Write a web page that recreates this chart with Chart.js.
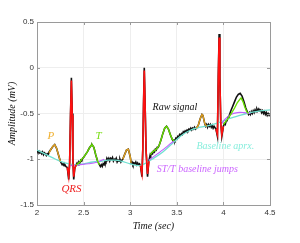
<!DOCTYPE html>
<html>
<head>
<meta charset="utf-8">
<script src="https://cdn.jsdelivr.net/npm/chart.js@4.4.1/dist/chart.umd.min.js"></script>
<style>
  html, body { margin: 0; padding: 0; background: #fff; }
  #wrap { width: 300px; height: 243px; position: relative; }
</style>
</head>
<body>
<div id="wrap"><canvas id="ecg"></canvas></div>
<script>
// tick labels
const xTicks = [2, 2.5, 3, 3.5, 4, 4.5];
const yTicks = [-1.5, -1, -0.5, 0, 0.5];

// raw ECG signal (time in sec, amplitude in mV)
const rawT = [2.00,2.01,2.02,2.03,2.04,2.05,2.06,2.07,2.08,2.09,2.10,2.11,2.12,2.13,2.15,2.17,2.19,2.21,2.23,2.25,2.26,2.27,2.28,2.29,2.30,2.31,2.325,
  2.34,2.35,2.36,2.369,2.378,2.385,2.394,2.405,
  2.42,2.43,2.44,2.45,2.46,2.47,2.48,2.49,2.50,2.52,2.54,2.56,2.58,2.59,2.61,2.63,2.65,2.67,2.68,2.69,2.70,2.71,2.72,2.73,2.74,2.75,2.76,2.77,2.78,2.79,2.80,2.81,2.82,2.83,2.84,2.85,2.86,2.87,2.88,2.89,2.90,2.91,2.92,2.94,2.96,2.98,3.00,3.01,3.02,3.03,3.04,3.05,3.06,3.07,3.08,3.09,3.10,3.11,
  3.126,3.135,3.143,3.151,3.16,3.17,3.186,
  3.20,3.215,3.22,3.23,3.24,3.25,3.26,3.27,3.28,3.29,3.30,3.31,3.33,3.35,3.37,3.39,3.41,3.43,3.45,3.46,3.47,3.48,3.49,3.50,3.51,3.52,3.53,3.54,3.55,3.56,3.57,3.58,3.59,3.60,3.61,3.62,3.63,3.64,3.65,3.66,3.67,3.68,3.69,3.70,3.71,3.73,3.75,3.77,3.78,3.80,3.81,3.82,3.83,3.84,3.85,3.86,3.87,3.88,3.89,3.90,3.92,
  3.936,3.945,3.954,3.962,3.972,3.983,
  4.00,4.01,4.02,4.03,4.04,4.05,4.06,4.08,4.10,4.12,4.14,4.16,4.18,4.20,4.22,4.24,4.26,4.27,4.28,4.29,4.30,4.31,4.32,4.33,4.34,4.35,4.36,4.37,4.38,4.39,4.40,4.41,4.42,4.43,4.44,4.45,4.46,4.47,4.48,4.49,4.50];
const rawV = [-0.90,-0.92,-0.91,-0.93,-0.92,-0.94,-0.92,-0.95,-0.93,-0.94,-0.96,-0.94,-0.95,-0.92,-0.89,-0.86,-0.84,-0.88,-0.95,-1.02,-1.04,-1.06,-1.05,-1.07,-1.06,-1.08,-1.09,
  -1.22,-1.05,-0.50,-0.11,-0.50,-1.00,-1.22,-1.10,
  -1.06,-1.04,-1.06,-1.03,-1.04,-1.01,-1.02,-0.99,-0.98,-0.95,-0.92,-0.88,-0.85,-0.84,-0.87,-0.95,-1.02,-1.06,-1.08,-1.06,-1.08,-1.05,-1.06,-1.02,-1.03,-0.99,-1.01,-0.99,-1.02,-0.99,-1.00,-0.98,-1.02,-1.00,-1.01,-0.99,-1.03,-1.01,-1.02,-1.00,-1.03,-1.01,-1.00,-0.95,-0.90,-0.89,-0.97,-1.04,-1.03,-1.06,-1.04,-1.05,-1.03,-1.06,-1.04,-1.06,-1.05,-1.07,
  -1.19,-0.90,-0.40,0.00,-0.40,-0.90,-1.19,
  -1.02,-0.95,-0.96,-0.93,-0.94,-0.91,-0.92,-0.89,-0.90,-0.87,-0.87,-0.85,-0.79,-0.72,-0.66,-0.64,-0.67,-0.73,-0.78,-0.80,-0.79,-0.80,-0.77,-0.78,-0.75,-0.76,-0.73,-0.74,-0.72,-0.73,-0.70,-0.71,-0.69,-0.70,-0.68,-0.69,-0.67,-0.68,-0.66,-0.68,-0.66,-0.67,-0.65,-0.67,-0.66,-0.63,-0.56,-0.51,-0.52,-0.61,-0.64,-0.62,-0.65,-0.62,-0.64,-0.62,-0.65,-0.63,-0.66,-0.64,-0.67,
  -0.75,-0.10,0.37,-0.10,-0.60,-0.75,
  -0.64,-0.61,-0.62,-0.58,-0.58,-0.54,-0.53,-0.47,-0.42,-0.37,-0.32,-0.29,-0.28,-0.31,-0.37,-0.44,-0.49,-0.51,-0.49,-0.51,-0.48,-0.50,-0.47,-0.49,-0.46,-0.48,-0.45,-0.47,-0.45,-0.47,-0.46,-0.49,-0.47,-0.50,-0.48,-0.51,-0.49,-0.52,-0.50,-0.52,-0.50];

// QRS complexes (red), null = gap between beats
const qrsT = [2.325,2.34,2.35,2.36,2.369,2.378,2.385,2.394,2.405,2.42, 2.8, 3.11,3.126,3.135,3.143,3.151,3.16,3.17,3.186,3.20, 3.6, 3.92,3.936,3.945,3.954,3.962,3.972,3.983,4.00];
const qrsV = [-1.09,-1.19,-1.05,-0.52,-0.14,-0.52,-1.00,-1.19,-1.10,-1.06, null, -1.07,-1.16,-0.90,-0.42,-0.03,-0.42,-0.90,-1.16,-1.02, null, -0.67,-0.73,-0.12,0.33,-0.12,-0.60,-0.73,-0.64];

// P waves (orange) and T waves (green)
const pT = [2.13,2.15,2.17,2.19,2.21,2.23,2.25, 2.6, 2.92,2.94,2.96,2.98,3.00,3.01, 3.4, 3.71,3.73,3.75,3.77,3.78,3.80,3.82];
const pV = [-0.93,-0.89,-0.86,-0.84,-0.88,-0.95,-1.02, null, -1.00,-0.95,-0.90,-0.89,-0.97,-1.04, null, -0.66,-0.63,-0.56,-0.51,-0.52,-0.61,-0.64];
const tT = [2.42,2.44,2.46,2.48,2.50,2.52,2.54,2.56,2.58,2.59,2.61,2.63,2.65,2.67, 2.9, 3.215,3.23,3.25,3.27,3.29,3.31,3.33,3.35,3.37,3.39,3.41,3.43,3.45,3.47, 3.7, 4.00,4.03,4.06,4.09,4.12,4.15,4.18,4.19,4.21,4.23,4.25,4.27];
const tV = [-1.06,-1.05,-1.03,-1.00,-0.98,-0.95,-0.92,-0.88,-0.85,-0.84,-0.87,-0.95,-1.02,-1.06, null, -0.95,-0.93,-0.91,-0.90,-0.88,-0.85,-0.79,-0.72,-0.66,-0.64,-0.67,-0.73,-0.78,-0.80, null, -0.62,-0.58,-0.54,-0.49,-0.44,-0.38,-0.34,-0.33,-0.37,-0.43,-0.48,-0.50];

// baseline approximation (cyan)
const baseT = [2.00,2.10,2.20,2.30,2.40,2.50,2.60,2.70,2.76,2.82,2.90,3.00,3.10,3.17,3.25,3.35,3.45,3.55,3.65,3.75,3.85,3.95,4.05,4.15,4.25,4.35,4.50];
const baseV = [-0.90,-0.95,-1.00,-1.04,-1.06,-1.05,-1.03,-1.02,-1.01,-1.01,-1.02,-1.05,-1.07,-1.04,-0.99,-0.92,-0.83,-0.74,-0.68,-0.65,-0.63,-0.60,-0.56,-0.53,-0.50,-0.48,-0.46];

// ST/T baseline jumps (purple)
const jumpT = [2.36,2.45,2.55,2.65,2.72, 3.0, 3.20,3.28,3.36,3.43,3.47, 3.8, 3.97,4.02,4.08,4.15,4.22,4.29];
const jumpV = [-1.07,-1.06,-1.05,-1.03,-1.00, null, -1.01,-0.95,-0.89,-0.83,-0.80, null, -0.63,-0.56,-0.51,-0.49,-0.49,-0.50];

// text annotations [text, x (sec), y (mV), colour, font size]
const notes = [
  ['P', 2.15, -0.75, '#f0b030', 11],
  ['T', 2.66, -0.75, '#77dd11', 11],
  ['QRS', 2.37, -1.33, '#ee2222', 11],
  ['Raw signal', 3.48, -0.43, '#111111', 10],
  ['Baseline aprx.', 4.02, -0.86, '#88eedd', 10],
  ['ST/T baseline jumps', 3.72, -1.11, '#cc66ff', 10],
];

function pts(ts, vs) {
  return ts.map((t, i) => ({ x: t, y: vs[i] }));
}

const serif = '"Liberation Serif", "Times New Roman", serif';

const decor = {
  id: 'decor',
  afterDraw(chart) {
    const { ctx, chartArea: a, scales } = chart;
    ctx.save();
    // box top and right, inward ticks
    ctx.strokeStyle = '#9a9a9a';
    ctx.lineWidth = 1;
    ctx.beginPath();
    ctx.moveTo(a.left, a.top + 0.5); ctx.lineTo(a.right + 0.5, a.top + 0.5);
    ctx.moveTo(a.right + 0.5, a.top); ctx.lineTo(a.right + 0.5, a.bottom);
    xTicks.forEach(v => {
      const px = Math.round(scales.x.getPixelForValue(v)) + 0.5;
      ctx.moveTo(px, a.bottom); ctx.lineTo(px, a.bottom - 3);
      ctx.moveTo(px, a.top); ctx.lineTo(px, a.top + 3);
    });
    yTicks.forEach(v => {
      const py = Math.round(scales.y.getPixelForValue(v)) + 0.5;
      ctx.moveTo(a.left, py); ctx.lineTo(a.left + 3, py);
      ctx.moveTo(a.right, py); ctx.lineTo(a.right - 3, py);
    });
    ctx.stroke();

    // axis titles
    ctx.fillStyle = '#111';
    ctx.font = 'italic 10px ' + serif;
    ctx.textAlign = 'center';
    ctx.textBaseline = 'middle';
    ctx.fillText('Time (sec)', (a.left + a.right) / 2, 226);
    ctx.save();
    ctx.translate(12, (a.top + a.bottom) / 2);
    ctx.rotate(-Math.PI / 2);
    ctx.fillText('Amplitude (mV)', 0, 0);
    ctx.restore();

    // labels in the plot
    notes.forEach(([txt, x, y, col, size]) => {
      ctx.fillStyle = col;
      ctx.font = 'italic ' + size + 'px ' + serif;
      ctx.fillText(txt, scales.x.getPixelForValue(x), scales.y.getPixelForValue(y));
    });
    ctx.restore();
  }
};

const tickFont = { family: '"Liberation Sans", Arial, sans-serif', size: 8 };

new Chart(document.getElementById('ecg'), {
  type: 'line',
  data: {
    datasets: [
      { data: pts(qrsT, qrsV), borderColor: '#ff1010', borderWidth: 1.6, order: 0 },
      { data: pts(tT, tV), borderColor: '#66dd00', borderWidth: 1.4, order: 1 },
      { data: pts(pT, pV), borderColor: '#e0a020', borderWidth: 1.4, order: 2 },
      { data: pts(jumpT, jumpV), borderColor: '#c060ff', borderWidth: 1.1, tension: 0.4, order: 3 },
      { data: pts(baseT, baseV), borderColor: '#70e0d0', borderWidth: 1.3, tension: 0.4, order: 4 },
      { data: pts(rawT, rawV), borderColor: '#111111', borderWidth: 1.6, order: 5 },
    ]
  },
  options: {
    responsive: true,
    maintainAspectRatio: false,
    animation: false,
    spanGaps: false,
    elements: { point: { radius: 0 }, line: { fill: false } },
    layout: { padding: { left: 0, right: 30, top: 22, bottom: 0 } },
    plugins: { legend: { display: false }, tooltip: { enabled: false } },
    scales: {
      x: {
        type: 'linear', min: 2, max: 4.5,
        afterBuildTicks: s => { s.ticks = xTicks.map(v => ({ value: v })); },
        afterFit: s => { s.height = 38; },
        ticks: { font: tickFont, color: '#333', padding: 3, maxRotation: 0, callback: v => String(v) },
        grid: { color: '#eeeeee', drawTicks: false },
        border: { color: '#9a9a9a' }
      },
      y: {
        type: 'linear', min: -1.5, max: 0.5,
        afterBuildTicks: s => { s.ticks = yTicks.map(v => ({ value: v })); },
        afterFit: s => { s.width = 37; },
        ticks: { font: tickFont, color: '#333', padding: 3, callback: v => String(v) },
        grid: { color: '#eeeeee', drawTicks: false },
        border: { color: '#9a9a9a' }
      }
    }
  },
  plugins: [decor]
});
</script>
</body>
</html>
